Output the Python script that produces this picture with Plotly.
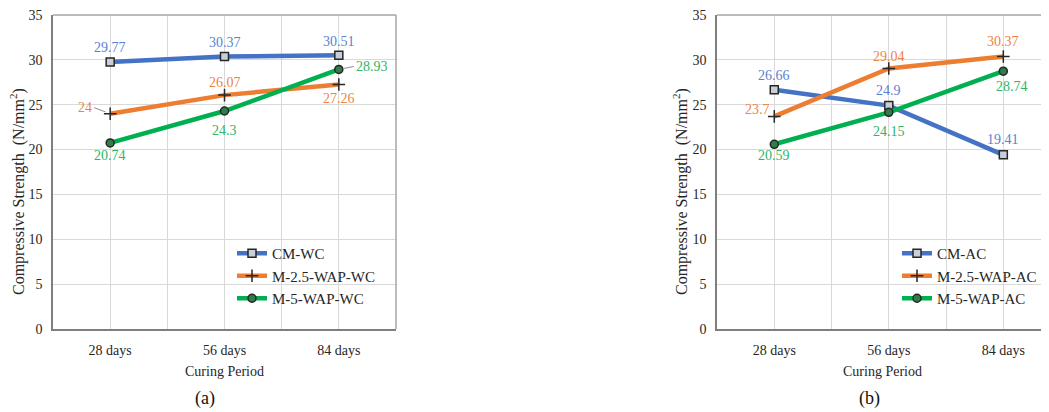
import plotly.graph_objects as go

categories = ["28 days", "56 days", "84 days"]

# Panel (a): water curing
cm_wc = [29.77, 30.37, 30.51]
m25_wc = [24.00, 26.07, 27.26]
m5_wc = [20.74, 24.30, 28.93]

# Panel (b): air curing
cm_ac = [26.66, 24.90, 19.41]
m25_ac = [23.70, 29.04, 30.37]
m5_ac = [20.59, 24.15, 28.74]

names_a = ["CM-WC", "M-2.5-WAP-WC", "M-5-WAP-WC"]
names_b = ["CM-AC", "M-2.5-WAP-AC", "M-5-WAP-AC"]

y_ticks = [0, 5, 10, 15, 20, 25, 30, 35]
y_title = "Compressive Strength  (N/mm<sup>2</sup>)"
x_title = "Curing Period"

LINE_COLORS = ["#4472C4", "#ED7D31", "#00B050"]
TEXT_COLORS = ["#5B7FD3", "#EE8442", "#2DB665"]
FONT = "Liberation Serif"

# page has an 8px body margin; figure is sized to fit the window
OFF = 8
W, H = 1049 - OFF, 412 - OFF

def px(x):
    return (x - OFF) / W

def py(y):
    return 1 - (y - OFF) / H

xs = list(range(len(categories)))

fig = go.Figure()

markers = [
    dict(symbol="square", size=8, color="#C9CFD9", line=dict(color="#262626", width=1.5)),
    dict(symbol="cross-thin", size=9, color="#262626", line=dict(color="#262626", width=1.5)),
    dict(symbol="circle", size=8, color="#2E7D4A", line=dict(color="#262626", width=1.5)),
]

panels = [
    ("x", "y", "legend", names_a, [cm_wc, m25_wc, m5_wc]),
    ("x2", "y2", "legend2", names_b, [cm_ac, m25_ac, m5_ac]),
]

for xa, ya, lg, names, series in panels:
    for i, (nm, vals) in enumerate(zip(names, series)):
        fig.add_trace(go.Scatter(
            x=xs, y=vals, name=nm, mode="lines+markers",
            line=dict(color=LINE_COLORS[i], width=4.5),
            marker=markers[i],
            xaxis=xa, yaxis=ya, legend=lg,
        ))

# label placements: (xshift, yshift, leader (ax, ay) in plotly convention)
place_a = [
    [(0, 14, None), (0, 14, None), (0, 14, None)],
    [(0, 0, (-16, -6)), (0, 13, None), (0, -14, None)],
    [(0, -13, None), (0, -20, None), (0, 0, (15, -3))],
]
place_b = [
    [(0, 14, None), (0, 15, None), (0, 15, None)],
    [(-17, 7, None), (0, 12, None), (0, 15, None)],
    [(0, -11, None), (0, -19, None), (9, -15, None)],
]

annotations = []
for (xa, ya, lg, names, series), places in zip(panels, [place_a, place_b]):
    for i, vals in enumerate(series):
        for j, v in enumerate(vals):
            dx, dy, arrow = places[i][j]
            txt = f"{v:g}"
            ann = dict(x=xs[j], y=v, xref=xa, yref=ya, text=txt,
                       font=dict(family=FONT, size=14, color=TEXT_COLORS[i]),
                       showarrow=False, xshift=dx, yshift=dy)
            if arrow is not None:
                ann.update(showarrow=True, ax=arrow[0], ay=arrow[1], arrowhead=0,
                           arrowwidth=1, arrowcolor="#8C8C8C", standoff=5,
                           xanchor="right" if arrow[0] < 0 else "left")
            annotations.append(ann)

for lbl, cx, tx in [("(a)", 205, 18), ("(b)", 869, 681)]:
    annotations.append(dict(x=px(cx), y=py(398), xref="paper", yref="paper", text=lbl,
                            xanchor="center", yanchor="middle", showarrow=False,
                            font=dict(family=FONT, size=18, color="#111")))
    annotations.append(dict(x=px(tx), y=py(192), xref="paper", yref="paper", text=y_title,
                            textangle=-90, xanchor="center", yanchor="middle", showarrow=False,
                            font=dict(family=FONT, size=16, color="#262626")))

# category boundaries get gridlines too
boundaries = [k + 0.5 for k in range(-1, len(categories))]

def xaxis(domain, rng):
    return dict(domain=domain, range=rng, tickvals=xs, ticktext=categories,
                showgrid=True, gridcolor="#D9D9D9", gridwidth=1,
                minor=dict(tickvals=boundaries, showgrid=True, gridcolor="#D9D9D9",
                           gridwidth=1, ticks=""),
                showline=True, linecolor="#7F7F7F", linewidth=1.5,
                ticks="", zeroline=False, ticklabelstandoff=7, automargin=False,
                ticklabeloverflow="allow",
                tickfont=dict(family=FONT, size=14, color="#262626"),
                title=dict(text=x_title, standoff=10,
                           font=dict(family=FONT, size=14, color="#262626")))

def yaxis(anchor):
    return dict(domain=[py(329), py(15)], range=[0, 35], tickvals=y_ticks,
                showgrid=True, gridcolor="#D9D9D9", gridwidth=1,
                showline=True, linecolor="#7F7F7F", linewidth=1.5,
                ticks="", zeroline=False, anchor=anchor, ticklabelstandoff=6,
                automargin=False, ticklabeloverflow="allow",
                tickfont=dict(family=FONT, size=14, color="#262626"))

shapes = []
for xa, ya in [("x", "y"), ("x2", "y2")]:
    shapes.append(dict(type="line", xref=f"{xa} domain", yref=f"{ya} domain",
                       x0=0, x1=1, y0=1, y1=1, line=dict(color="#A6A6A6", width=1.5)))
    shapes.append(dict(type="line", xref=f"{xa} domain", yref=f"{ya} domain",
                       x0=1, x1=1, y0=0, y1=1, line=dict(color="#A6A6A6", width=1.5)))

legend_common = dict(font=dict(family=FONT, size=15, color="#262626"),
                     bgcolor="rgba(0,0,0,0)", itemwidth=30, tracegroupgap=0,
                     xanchor="left", yanchor="top")

fig.update_layout(
    width=W, height=H,
    margin=dict(l=0, r=0, t=0, b=0, autoexpand=False),
    paper_bgcolor="white", plot_bgcolor="white",
    xaxis=xaxis([px(53), px(396)], [-0.5, 2.5]),
    yaxis=yaxis("x"),
    xaxis2=xaxis([px(717), px(1048)], [-0.5, 2.39]),
    yaxis2=yaxis("x2"),
    legend=dict(x=px(232), y=py(237), **legend_common),
    legend2=dict(x=px(897), y=py(237), **legend_common),
    annotations=annotations,
    shapes=shapes,
    showlegend=True,
)

fig.write_html("out.html")
